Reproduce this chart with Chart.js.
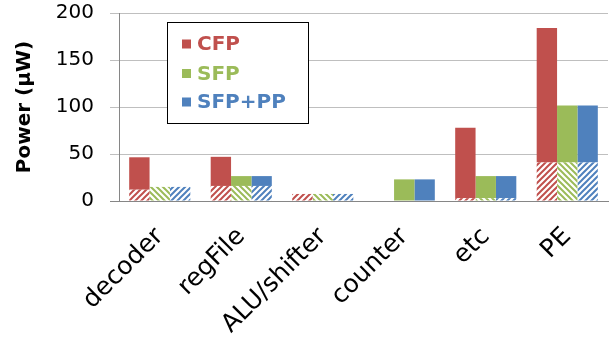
<!DOCTYPE html>
<html>
<head>
<meta charset="utf-8">
<script src="https://cdn.jsdelivr.net/npm/chart.js@4"></script>
<style>
html,body{margin:0;padding:0;background:#fff;}
#wrap{width:611px;height:347px;}
</style>
</head>
<body>
<div id="wrap"><canvas id="c" width="611" height="347"></canvas></div>
<script>
// ---- data ----
const categories = ['decoder', 'regFile', 'ALU/shifter', 'counter', 'etc', 'PE'];
const seriesNames = ['CFP', 'SFP', 'SFP+PP'];
const cfpStatic   = [12, 16, 7.5, 0, 3, 41];
const cfpDynamic  = [34.5, 31, 0, 0, 75, 143];
const sfpStatic   = [15, 16, 7.5, 0, 3, 41];
const sfpDynamic  = [0, 10.5, 0, 23, 23.5, 60.5];
const ppStatic    = [15, 16, 7.5, 0, 3, 41];
const ppDynamic   = [0, 10.5, 0, 23, 23.5, 60.5];
const yTicks = [0, 50, 100, 150, 200];

const colors = ['#C0504D', '#9BBB59', '#4F81BD'];
const FONT = "'DejaVu Sans', sans-serif";

function hatch(color, dir) {
  const s = 6;
  const c = document.createElement('canvas');
  c.width = s; c.height = s;
  const g = c.getContext('2d');
  g.fillStyle = '#fff';
  g.fillRect(0, 0, s, s);
  g.strokeStyle = color;
  g.lineWidth = 2;
  g.beginPath();
  const segs = [[-1, 1, 1, -1], [-1, s + 1, s + 1, -1], [s - 1, s + 1, s + 1, s - 1]];
  segs.forEach(([x1, y1, x2, y2]) => {
    if (dir < 0) { x1 = s - x1; x2 = s - x2; }
    g.moveTo(x1, y1); g.lineTo(x2, y2);
  });
  g.stroke();
  return g.createPattern(c, 'repeat');
}

const statics = [cfpStatic, sfpStatic, ppStatic];
const dynamics = [cfpDynamic, sfpDynamic, ppDynamic];
const dirs = [1, -1, 1];
const datasets = [];
seriesNames.forEach((name, i) => {
  datasets.push({
    label: name + ' static', data: statics[i], stack: name,
    backgroundColor: hatch(colors[i], dirs[i]), borderWidth: 0,
    categoryPercentage: 0.75, barPercentage: 1.0
  });
  datasets.push({
    label: name, data: dynamics[i], stack: name,
    backgroundColor: colors[i], borderWidth: 0,
    categoryPercentage: 0.75, barPercentage: 1.0
  });
});

const legendPlugin = {
  id: 'boxLegend',
  afterDraw(chart) {
    const ctx = chart.ctx;
    ctx.save();
    const x0 = 167.5, y0 = 22.5, w = 141, h = 101;
    ctx.fillStyle = '#fff';
    ctx.fillRect(x0, y0, w, h);
    ctx.strokeStyle = '#000';
    ctx.lineWidth = 1;
    ctx.strokeRect(x0, y0, w, h);
    const rows = [44, 73.5, 102];
    ctx.font = "bold 20px " + FONT;
    ctx.textBaseline = 'middle';
    ctx.textAlign = 'left';
    seriesNames.forEach((n, i) => {
      ctx.fillStyle = colors[i];
      ctx.fillRect(182, rows[i] - 4.5, 9, 9);
      ctx.fillText(n, 197, rows[i] + 1);
    });
    ctx.restore();
  }
};

new Chart(document.getElementById('c'), {
  type: 'bar',
  data: { labels: categories, datasets },
  plugins: [legendPlugin],
  options: {
    responsive: false,
    animation: false,
    devicePixelRatio: 1,
    layout: { padding: { top: 13, right: 3, left: 0, bottom: 0 } },
    plugins: { legend: { display: false }, tooltip: { enabled: false } },
    scales: {
      x: {
        stacked: true,
        grid: { display: false },
        border: { display: true, color: '#868686', width: 1 },
        ticks: {
          color: '#000', font: { family: FONT, size: 25 },
          maxRotation: 45, minRotation: 45, padding: 13, autoSkip: false
        },
        afterFit(scale) { scale.height = 146; }
      },
      y: {
        stacked: true,
        min: 0, max: 200,
        afterBuildTicks(scale) { scale.ticks = yTicks.map(v => ({ value: v })); },
        grid: {
          color: (c) => (c.tick && c.tick.value === 0) ? '#868686' : '#bfbfbf',
          tickColor: (c) => (c.tick && c.tick.value === 0) ? '#868686' : '#bfbfbf',
          tickLength: 9, lineWidth: 1
        },
        border: { display: true, color: '#868686', width: 1 },
        ticks: { color: '#000', font: { family: FONT, size: 20 }, padding: 16 },
        title: {
          display: true, text: 'Power (\u03bcW)', color: '#000',
          font: { family: FONT, size: 20, weight: 'bold' },
          padding: { top: 13, bottom: 0 }
        },
        afterFit(scale) { scale.width = 119; scale.paddingTop = 0; scale.paddingBottom = 0; }
      }
    }
  }
});
</script>
</body>
</html>
